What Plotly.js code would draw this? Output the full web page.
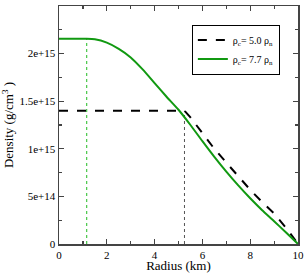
<!DOCTYPE html>
<html><head><meta charset="utf-8">
<script src="https://cdn.plot.ly/plotly-3.0.1.min.js"></script>
<style>html,body{margin:0;padding:0;background:#fff}#c{width:305px;height:273px}</style>
</head><body><div id="c"></div>
<script>
// Data
const radiusA = [0, 5.25, 5.5, 6, 6.5, 7, 7.5, 8, 8.5, 9, 9.5, 10];
const densityA = [1.40e15, 1.40e15, 1.33e15, 1.16e15, 1.00e15, 0.855e15, 0.71e15, 0.57e15, 0.44e15, 0.32e15, 0.17e15, 0];
const radiusB = [0, 1.16, 1.5, 2, 2.5, 3, 3.5, 4, 4.5, 5, 5.5, 6, 6.5, 7, 7.5, 8, 8.5, 9, 9.5, 10];
const densityB = [2.155e15, 2.155e15, 2.15e15, 2.115e15, 2.05e15, 1.96e15, 1.834e15, 1.69e15, 1.547e15, 1.41e15, 1.25e15, 1.08e15, 0.915e15, 0.76e15, 0.615e15, 0.48e15, 0.355e15, 0.24e15, 0.12e15, 0];
const coreA = {r: [5.25, 5.25], d: [0, 1.40e15]};
const coreB = {r: [1.16, 1.16], d: [0, 2.155e15]};
const names = ["ρ<sub>c</sub>= 5.0 ρ<sub>n</sub>", "ρ<sub>c</sub>= 7.7 ρ<sub>n</sub>"];
const yTickVals = [0, 5e14, 1e15, 1.5e15, 2e15, 2.5e15];
const yTickText = ["0", "5e+14", "1e+15", "1.5e+15", "2e+15", "2.5e+15"];
const xTickVals = [0, 2, 4, 6, 8, 10];

const traces = [
  {x: coreB.r, y: coreB.d, mode: 'lines', line: {color: '#22bb22', width: 1, dash: 'dot'}, showlegend: false, hoverinfo: 'skip'},
  {x: coreA.r, y: coreA.d, mode: 'lines', line: {color: '#555555', width: 1, dash: 'dot'}, showlegend: false, hoverinfo: 'skip'},
  {x: radiusA, y: densityA, mode: 'lines', name: names[0], line: {color: '#000000', width: 2, dash: 'dash'}},
  {x: radiusB, y: densityB, mode: 'lines', name: names[1], line: {color: '#119911', width: 2, shape: 'spline', smoothing: 0.6}}
];

const FAM = "Liberation Serif, Times New Roman, serif";
const font = {family: FAM, color: '#000', size: 11};
const axisCommon = {
  showgrid: false, zeroline: false, showline: true, linecolor: '#444', linewidth: 1.5,
  mirror: 'allticks', ticks: 'inside', ticklen: 5, tickwidth: 1.2, tickcolor: '#444',
  tickfont: font,
  minor: {ticks: 'inside', ticklen: 3, tickwidth: 1.2, tickcolor: '#444'}
};
const layout = {
  width: 305, height: 273,
  margin: {l: 59, r: 7, t: 6, b: 29},
  paper_bgcolor: '#fff', plot_bgcolor: '#fff',
  font: font,
  showlegend: true,
  legend: {x: 0.74, y: 0.922, xanchor: 'center', yanchor: 'top', bordercolor: '#000', borderwidth: 1,
           bgcolor: '#fff', font: {family: FAM, size: 10, color: '#000'}, tracegroupgap: 0, itemwidth: 30},
  xaxis: Object.assign({}, axisCommon, {
    range: [0, 10], tickvals: xTickVals, ticktext: xTickVals.map(String),
    minor: Object.assign({}, axisCommon.minor, {tickvals: [1, 3, 5, 7, 9]}),
    title: {text: 'Radius (km)', font: {family: FAM, size: 13, color: '#000'}, standoff: 5}
  }),
  yaxis: Object.assign({}, axisCommon, {
    range: [0, 2.5e15], tickvals: yTickVals, ticktext: yTickText,
    minor: Object.assign({}, axisCommon.minor, {tickvals: [2.5e14, 7.5e14, 1.25e15, 1.75e15, 2.25e15]}),
    title: {text: 'Density (g/cm<sup>3</sup> )', font: {family: FAM, size: 13, color: '#000'}, standoff: 4}
  })
};
Plotly.newPlot('c', traces, layout, {displayModeBar: false, staticPlot: true});
</script></body></html>
